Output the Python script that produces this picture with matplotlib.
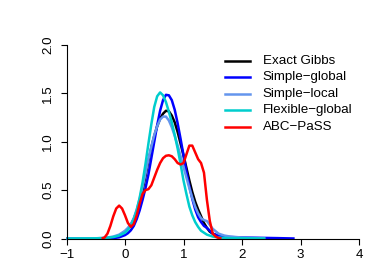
import numpy as np
import matplotlib
matplotlib.use("Agg")
import matplotlib.pyplot as plt

plt.rcParams['font.family'] = ['Liberation Sans', 'DejaVu Sans']

# density estimates
nan = np.nan
x_grid = [-1.0, -0.5, -0.4, -0.3, -0.2, -0.1,
          0.0, 0.05, 0.1, 0.15, 0.2, 0.25, 0.3, 0.35, 0.4, 0.45, 0.5, 0.55, 0.6,
          0.65, 0.7, 0.75, 0.8, 0.85, 0.9, 0.95, 1.0, 1.05, 1.1, 1.15, 1.2, 1.25,
          1.3, 1.35, 1.4, 1.45, 1.5,
          1.6, 1.7, 1.8, 2.0, 2.2, 2.4, 2.6, 2.9]
exact_gibbs = [0, 0.0003, 0.001, 0.004, 0.012, 0.03,
               0.07, 0.10, 0.14, 0.20, 0.28, 0.38, 0.50, 0.64, 0.80, 0.94, 1.06,
               1.16, 1.24, 1.29, 1.32, 1.315, 1.27, 1.20, 1.10, 0.98, 0.86, 0.73,
               0.60, 0.48, 0.38, 0.30, 0.23, 0.16, 0.11, 0.07, 0.05,
               0.02, 0.008, 0.003, 0.0, nan, nan, nan, nan]
simple_global = [0, 0, 0.0005, 0.001, 0.004, 0.012,
                 0.035, 0.055, 0.085, 0.13, 0.20, 0.29, 0.40, 0.52, 0.66, 0.83, 1.00,
                 1.17, 1.32, 1.43, 1.485, 1.48, 1.43, 1.33, 1.19, 1.03, 0.86, 0.69,
                 0.54, 0.41, 0.30, 0.22, 0.17, 0.13, 0.11, 0.08, 0.05,
                 0.03, 0.02, 0.015, 0.01, 0.008, 0.006, 0.004, 0.0]
simple_local = [0, 0.002, 0.005, 0.01, 0.02, 0.04,
                0.08, 0.11, 0.15, 0.21, 0.30, 0.41, 0.53, 0.67, 0.82, 0.95, 1.07,
                1.16, 1.23, 1.26, 1.26, 1.22, 1.15, 1.06, 0.96, 0.85, 0.74, 0.63,
                0.52, 0.42, 0.33, 0.26, 0.21, 0.19, 0.18, 0.14, 0.10,
                0.05, 0.03, 0.02, 0.01, 0.005, 0.0, nan, nan]
flexible_global = [0, 0.002, 0.004, 0.008, 0.015, 0.03,
                   0.06, 0.09, 0.13, 0.20, 0.29, 0.42, 0.58, 0.77, 0.98, 1.18, 1.36,
                   1.47, 1.51, 1.48, 1.41, 1.31, 1.20, 1.07, 0.93, 0.77, 0.60, 0.46,
                   0.33, 0.24, 0.17, 0.12, 0.08, 0.06, 0.04, 0.03, 0.02,
                   0.01, 0.006, 0.004, 0.003, 0.002, 0.0, nan, nan]

x_pass = [-0.4, -0.35, -0.3, -0.25, -0.2, -0.15, -0.1, -0.05, 0.0, 0.05, 0.1, 0.15,
          0.2, 0.25, 0.3, 0.35, 0.4, 0.45, 0.5, 0.55, 0.6, 0.65, 0.7, 0.75, 0.8,
          0.85, 0.9, 0.95, 1.0, 1.05, 1.1, 1.15, 1.2, 1.25, 1.3, 1.35, 1.4, 1.45,
          1.5, 1.55, 1.6, 1.65]
abc_pass = [0, 0.01, 0.05, 0.13, 0.23, 0.31, 0.34, 0.31, 0.24, 0.16, 0.12, 0.15,
            0.24, 0.36, 0.46, 0.50, 0.51, 0.55, 0.63, 0.71, 0.78, 0.83, 0.855, 0.86,
            0.85, 0.82, 0.78, 0.765, 0.78, 0.87, 0.96, 0.96, 0.89, 0.82, 0.78, 0.68,
            0.40, 0.18, 0.05, 0.02, 0.005, 0]

labels = ["Exact Gibbs", "Simple\u2212global", "Simple\u2212local",
          "Flexible\u2212global", "ABC\u2212PaSS"]
colors = ["black", "#0000FF", "#6495ED", "#00CDCD", "#FF0000"]

fig = plt.figure(figsize=(3.82, 2.73), dpi=100)
ax = fig.add_axes([66.5 / 382, 34.5 / 273, 292.5 / 382, 193.5 / 273])

series = [(x_grid, exact_gibbs), (x_grid, simple_global), (x_grid, simple_local),
          (x_grid, flexible_global), (x_pass, abc_pass)]
for (xs, ys), col in zip(series, colors):
    ax.plot(xs, ys, color=col, lw=1.8, clip_on=False, solid_capstyle='butt')

ax.set_xlim(-1, 4)
ax.set_ylim(0, 2)
ax.set_xticks([-1, 0, 1, 2, 3, 4])
ax.set_xticklabels(["\u22121", "0", "1", "2", "3", "4"])
ax.set_yticks([0, 0.5, 1.0, 1.5, 2.0])
ax.set_yticklabels(["0.0", "0.5", "1.0", "1.5", "2.0"], rotation=90, va='center')
for side in ['top', 'right']:
    ax.spines[side].set_visible(False)
for side in ['left', 'bottom']:
    ax.spines[side].set_linewidth(0.8)
ax.tick_params(direction='out', length=4.3, width=0.8, labelsize=9.6, pad=3.5)
ax.tick_params(axis='y', pad=4.5)

# legend without frame, drawn by hand like R's legend(bty="n")
for i, (lab, col) in enumerate(zip(labels, colors)):
    yy = 0.917 - i * 0.0848
    ax.plot([0.542, 0.627], [yy, yy], transform=ax.transAxes, color=col, lw=1.8,
            clip_on=False)
    ax.text(0.671, yy, lab, transform=ax.transAxes, fontsize=9.6, va='center',
            ha='left')

fig.savefig("out.png", dpi=100)
